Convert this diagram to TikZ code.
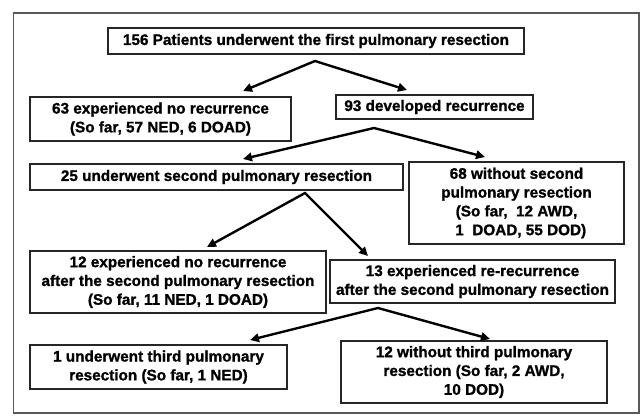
\documentclass[tikz,border=0pt]{standalone}
\usepackage{fontspec}
\setmainfont{Liberation Sans}[BoldFeatures={FakeBold=1.2}]
\usetikzlibrary{arrows.meta}
\tikzset{
  box/.style={draw=black!85, line width=1.1pt, inner sep=0pt, align=center,
    font=\fontsize{15.3}{18.8}\selectfont\bfseries},
  flow/.style={line width=2.4pt, line join=miter,
    {Triangle[length=9pt,width=8.5pt]}-{Triangle[length=9pt,width=8.5pt]}},
  frame/.style={draw=black!65, line width=1.6pt}
}
\begin{document}
\begin{tikzpicture}[x=1pt,y=-1pt]
\useasboundingbox (0,0) rectangle (642,416);
\fill[white] (0,0) rectangle (642,416);
\draw[frame] (13.5,13) rectangle (639,413);

\node[box, minimum width=416, minimum height=26] (top) at (316,41)
  {156 Patients underwent the first pulmonary resection};
\node[box, minimum width=261, minimum height=44] (n63) at (160.5,119)
  {63 experienced no recurrence\\(So far, 57 NED, 6 DOAD)};
\node[box, minimum width=197, minimum height=24] (n93) at (434.5,107)
  {93 developed recurrence};
\node[box, minimum width=373, minimum height=26] (n25) at (216.5,177)
  {25 underwent second pulmonary resection};
\node[box, minimum width=215, minimum height=82] (n68) at (516.5,203)
  {68 without second\\pulmonary resection\\(So far,~~12 AWD,\\~~1~~DOAD, 55 DOD)};
\node[box, minimum width=296, minimum height=62] (n12) at (178,282)
  {12 experienced no recurrence\\after the second pulmonary resection\\(So far, 11 NED, 1 DOAD)};
\node[box, minimum width=285, minimum height=43] (n13) at (472.5,281.5)
  {13 experienced re-recurrence\\after the second pulmonary resection};
\node[box, minimum width=257, minimum height=44] (n1) at (158.5,367)
  {1 underwent third pulmonary\\resection (So far, 1 NED)};
\node[box, minimum width=266, minimum height=62] (n12b) at (474,372)
  {12 without third pulmonary\\resection (So far, 2 AWD,\\10 DOD)};

\coordinate (p1) at (315,61);
\coordinate (t1a) at (243,91);
\coordinate (t1b) at (407,90);
\coordinate (p2) at (374,128);
\coordinate (t2a) at (243,159);
\coordinate (t2b) at (485,157);
\coordinate (p3) at (305,193);
\coordinate (t3a) at (207,247);
\coordinate (t3b) at (368,256);
\coordinate (p4) at (378,308);
\coordinate (t4a) at (250,340);
\coordinate (t4b) at (490,339);

\draw[flow] (t1a) -- (p1) -- (t1b);
\draw[flow] (t2a) -- (p2) -- (t2b);
\draw[flow] (t3a) -- (p3) -- (t3b);
\draw[flow] (t4a) -- (p4) -- (t4b);
\end{tikzpicture}
\end{document}
